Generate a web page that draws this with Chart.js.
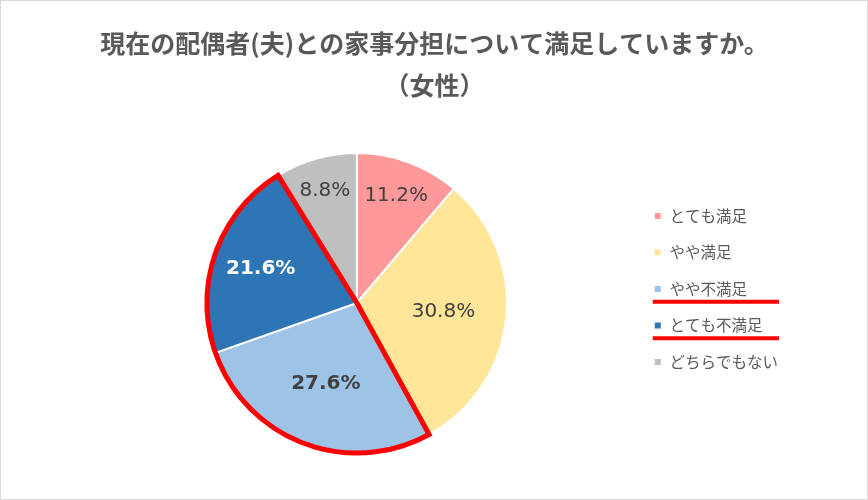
<!DOCTYPE html>
<html>
<head>
<meta charset="utf-8">
<script src="https://cdn.jsdelivr.net/npm/chart.js@4"></script>
<style>
  html, body { margin: 0; padding: 0; background: #fff; }
  canvas { display: block; }
</style>
</head>
<body>
<canvas id="myChart" width="868" height="500"></canvas>
<script>
const titleLines = ['現在の配偶者(夫)との家事分担について満足していますか。', '（女性）'];
const categories = ['とても満足', 'やや満足', 'やや不満足', 'とても不満足', 'どちらでもない'];
const shares = [11.2, 30.8, 27.6, 21.6, 8.8];
const sliceColors = ['#FF9999', '#FFE699', '#9DC3E6', '#2E75B6', '#BFBFBF'];
// slices / legend rows marked in red
const highlighted = [2, 3];
// label placement (fraction of radius) and look, per slice
const labelRadius = [0.76, 0.58, 0.58, 0.68, 0.78];
const labelBold = [false, false, true, true, false];
const labelColors = ['#404040', '#404040', '#404040', '#ffffff', '#404040'];

const frame = {
  id: 'frame',
  beforeDraw: (chart) => {
    const ctx = chart.ctx;
    ctx.save();
    ctx.fillStyle = '#ffffff';
    ctx.fillRect(0, 0, chart.width, chart.height);
    ctx.strokeStyle = '#d9d9d9';
    ctx.lineWidth = 1;
    ctx.strokeRect(0.5, 0.5, chart.width - 1, chart.height - 1);
    ctx.restore();
  },
};

// move the legend column down, like the original
const legendShift = {
  id: 'legendShift',
  afterLayout: (chart) => {
    chart.legend.top += 62;
    chart.legend.bottom += 62;
  },
};

const sliceMarks = {
  id: 'sliceMarks',
  afterDatasetsDraw: (chart) => {
    const ctx = chart.ctx;
    const arcs = chart.getDatasetMeta(0).data;

    // red outline round the highlighted slices
    const first = arcs[highlighted[0]];
    const last = arcs[highlighted[highlighted.length - 1]];
    ctx.save();
    ctx.beginPath();
    ctx.moveTo(first.x, first.y);
    ctx.arc(first.x, first.y, first.outerRadius, first.startAngle, last.endAngle);
    ctx.closePath();
    ctx.strokeStyle = '#ff0000';
    ctx.lineWidth = 5;
    ctx.lineJoin = 'miter';
    ctx.stroke();
    ctx.restore();

    // value labels
    ctx.save();
    ctx.textAlign = 'center';
    ctx.textBaseline = 'middle';
    arcs.forEach((arc, i) => {
      const mid = (arc.startAngle + arc.endAngle) / 2;
      const r = arc.outerRadius * labelRadius[i];
      ctx.font = (labelBold[i] ? 'bold ' : '') + '20px "DejaVu Sans", Verdana, sans-serif';
      ctx.fillStyle = labelColors[i];
      ctx.fillText(shares[i].toFixed(1) + '%', arc.x + Math.cos(mid) * r, arc.y + Math.sin(mid) * r);
    });
    ctx.restore();
  },
};

const legendMarks = {
  id: 'legendMarks',
  afterDraw: (chart) => {
    const boxes = chart.legend.legendHitBoxes;
    const w = Math.max(...boxes.map((b) => b.width));
    const ctx = chart.ctx;
    ctx.save();
    ctx.fillStyle = '#ff0000';
    highlighted.forEach((i) => {
      const b = boxes[i];
      ctx.fillRect(b.left - 1, b.top + b.height + 3, w + 2, 4);
    });
    ctx.restore();
  },
};

const ctx = document.getElementById('myChart').getContext('2d');
new Chart(ctx, {
  type: 'pie',
  data: {
    labels: categories,
    datasets: [
      {
        data: shares,
        backgroundColor: sliceColors,
        borderColor: '#ffffff',
        borderWidth: 2,
        hoverOffset: 0,
      },
    ],
  },
  options: {
    responsive: false,
    animation: false,
    layout: {
      padding: {top: 0, bottom: 46, left: 81, right: 80},
    },
    plugins: {
      title: {
        display: true,
        text: titleLines,
        color: '#595959',
        font: {family: '"Noto Sans CJK JP", sans-serif', size: 25, weight: 'bold', lineHeight: 1.68},
        padding: {top: 22, bottom: 46},
      },
      legend: {
        position: 'right',
        align: 'center',
        labels: {
          boxWidth: 8,
          boxHeight: 8,
          padding: 21,
          color: '#595959',
          font: {family: '"Noto Sans CJK JP", sans-serif', size: 15.5},
        },
      },
      tooltip: {enabled: false},
    },
  },
  plugins: [frame, legendShift, sliceMarks, legendMarks],
});
</script>
</body>
</html>
